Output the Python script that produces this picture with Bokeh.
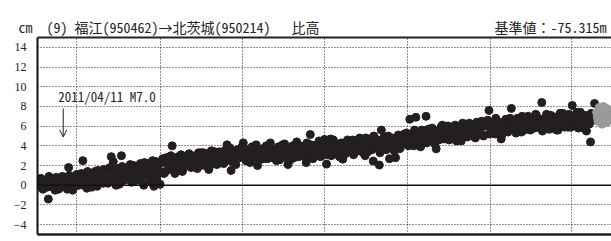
import numpy as np
import pandas as pd
from bokeh.plotting import figure
from bokeh.models import (Range1d, LinearAxis, DatetimeAxis, FixedTicker, Span, Label, Title,
                          Arrow, OpenHead, CustomJSTickFormatter, ColumnDataSource)
from bokeh.embed import file_html
from bokeh.resources import INLINE

# ---------------- data ----------------
unit_label = "cm"
route_no = "(9)"
route = "福江(950462)→北茨城(950214)"
quantity = "比高"
reference_value = "基準値：-75.315m"
event_date = "2011-04-11"
event_text = "2011/04/11 M7.0"

x_start = "2011-03-04"
x_end = "2013-06-29"
grid_dates = ["2011-05-01", "2011-09-01", "2012-01-01", "2012-05-01",
              "2012-09-01", "2013-01-01", "2013-05-01"]
y_ticks = [-4, -2, 0, 2, 4, 6, 8, 10, 12, 14]

# final solutions (cm), series A: every 3 days from 2011-03-08
final_a_start = "2011-03-08"
final_a = [
    0.1, -0.3, 0.5, 0.2, -1.4, 0.6, -0.2, 0.3, 0.8, -0.4,
    0.4, 0.9, -0.1, 0.5, 1.8, 0.2, -0.5, 0.7, 1.1, 0.0,
    0.5, 2.5, 0.9, -0.3, 1.2, 0.3, 0.8, 1.4, -0.1, 0.6,
    1.3, 0.2, 1.0, 1.6, 0.4, 2.9, 2.4, 0.7, 1.5, 0.1,
    3.0, 1.1, 0.6, 1.8, 1.4, 0.3, 2.0, 1.0, 1.7, 0.5,
    1.9, 0.0, 1.3, 2.2, 0.4, 1.6, -0.1, 2.4, 1.1, 0.1,
    2.3, 1.2, 2.8, 1.8, 2.5, 4.0, 1.6, 2.1, 2.9, 1.5,
    1.4, 2.6, 2.0, 3.1, 2.4, 1.9, 2.8, 2.2, 3.3, 2.0,
    2.7, 2.3, 3.2, 1.6, 2.9, 2.4, 3.4, 2.1, 2.8, 3.0,
    2.5, 3.3, 4.1, 2.7, 1.5, 3.1, 2.6, 3.6, 2.9, 3.4,
    4.3, 2.8, 3.5, 3.0, 2.6, 3.7, 3.2, 2.0, 3.4, 2.9,
    3.6, 3.1, 2.7, 3.9, 3.3, 2.9, 3.5, 3.8, 2.6, 3.2,
    3.0, 3.7, 2.1, 3.4, 3.9, 2.8, 3.5, 3.2, 4.0, 3.1,
    3.6, 2.3, 3.3, 5.15, 3.8, 3.0, 4.1, 3.4, 2.9, 3.7,
    4.65, 2.15, 3.5, 4.7, 3.9, 3.2, 4.2, 3.6, 4.0, 2.65,
    3.8, 4.3, 3.4, 4.0, 4.6, 3.5, 4.1, 3.7, 4.4, 3.3,
    3.0, 4.2, 4.7, 3.8, 2.45, 4.4, 3.9, 2.05, 5.6, 4.0,
    4.6, 3.9, 2.7, 4.5, 4.1, 2.8, 4.8, 3.7, 4.4, 5.0,
    4.3, 5.1, 6.7, 4.6, 4.0, 6.9, 5.3, 4.5, 5.6, 4.9,
    7.0, 5.2, 4.6, 5.8, 4.9, 3.7, 5.5, 5.0, 6.1, 4.7,
    5.4, 6.0, 4.8, 5.2, 5.9, 4.5, 5.6, 5.1, 6.3, 4.9,
    5.8, 5.3, 6.2, 5.0, 5.7, 6.4, 5.4, 5.9, 5.1, 6.0,
    6.2, 7.6, 5.5, 6.0, 5.2, 6.5, 5.8, 4.7, 6.3, 5.6,
    6.6, 5.9, 7.8, 6.2, 5.7, 6.8, 6.0, 5.4, 6.4, 6.9,
    6.1, 5.8, 6.7, 6.3, 7.2, 5.9, 6.5, 8.4, 6.0, 6.8,
    6.4, 5.7, 7.0, 6.2, 6.6, 5.6, 7.3, 6.1, 6.8, 6.5,
    5.9, 7.1, 8.1, 6.4, 6.9, 5.8, 7.4, 6.3, 6.7, 5.5,
    7.0, 4.4, 6.6, 8.3,
]
# final solutions (cm), series B: every 3 days from 2011-03-09 (interleaved days)
final_b_start = "2011-03-09"
final_b = [
    0.7, -0.4, 0.3, -0.2, 0.9, 0.0, 0.6, -0.5, 0.4, 0.1,
    -0.2, 0.8, 0.5, -0.4, 1.0, 0.2, -0.1, 0.7, 0.0, 0.9,
    1.2, 0.0, 0.8, 1.4, 0.3, -0.2, 1.0, 0.5, 1.5, 0.2,
    0.3, 1.6, 1.0, 0.2, 1.8, 0.6, 1.3, 0.0, 1.7, 0.8,
    1.9, 0.5, 1.4, 0.8, 2.1, 1.0, 0.4, 1.7, 1.2, 2.2,
    0.8, 2.3, 1.2, 2.0, 0.9, 2.5, 1.6, 0.6, 2.2, 1.4,
    2.7, 1.3, 2.4, 1.6, 3.0, 1.9, 1.2, 2.6, 2.2, 3.1,
    1.6, 2.9, 2.1, 3.2, 1.8, 2.6, 3.0, 1.7, 2.5, 3.3,
    3.3, 2.0, 2.9, 1.9, 3.5, 2.4, 3.1, 2.2, 3.4, 2.7,
    2.2, 3.6, 2.6, 3.8, 2.4, 3.3, 2.1, 3.5, 2.8, 3.9,
    3.8, 2.5, 3.5, 2.3, 3.9, 2.8, 4.1, 3.3, 2.6, 3.7,
    2.7, 4.0, 3.1, 4.3, 2.8, 3.6, 2.5, 3.9, 3.2, 4.1,
    4.2, 2.8, 3.8, 2.6, 4.0, 3.3, 4.4, 2.9, 3.7, 3.1,
    2.9, 4.3, 3.4, 4.1, 2.7, 3.9, 3.2, 4.5, 3.0, 4.0,
    4.4, 3.1, 4.2, 3.0, 4.6, 3.5, 4.0, 2.9, 4.3, 3.4,
    3.2, 4.6, 3.6, 4.5, 3.1, 4.2, 3.5, 4.8, 3.8, 4.4,
    4.8, 3.4, 4.5, 3.6, 5.0, 3.9, 4.6, 3.3, 4.3, 4.9,
    3.6, 5.0, 4.0, 4.8, 3.5, 4.6, 5.1, 3.8, 4.4, 5.2,
    5.3, 4.0, 5.1, 4.2, 5.6, 4.5, 5.0, 3.9, 5.4, 4.6,
    4.3, 5.7, 4.7, 5.5, 4.2, 5.3, 4.6, 5.9, 4.8, 5.6,
    6.0, 4.6, 5.7, 4.8, 6.1, 5.0, 5.8, 4.5, 5.5, 6.2,
    4.9, 6.3, 5.2, 6.1, 4.8, 5.9, 5.3, 6.5, 5.0, 6.2,
    6.6, 5.2, 6.3, 5.4, 6.8, 5.6, 6.4, 5.1, 6.1, 6.7,
    5.4, 6.8, 5.8, 6.6, 5.3, 6.5, 5.9, 7.0, 5.6, 6.7,
    7.0, 5.6, 6.8, 5.8, 7.1, 6.0, 6.7, 5.5, 6.5, 7.2,
    5.7, 7.1, 6.0, 6.9, 5.6, 6.8, 6.2, 7.3, 5.9, 7.0,
    7.2, 5.9, 7.0, 6.1, 7.4, 6.3, 6.9, 5.8, 7.1, 6.4,
    6.2, 7.3, 6.6,
]
# rapid (preliminary) solutions (cm), daily from 2013-06-07
rapid_start = "2013-06-07"
rapid_vals = [7.4, 6.9, 6.5, 7.2, 7.9, 7.0, 6.6, 7.5, 6.2, 7.6, 8.0, 7.1,
              6.8, 7.3, 7.8, 6.4, 7.0, 7.7, 6.9, 7.1, 7.5, 6.7, 7.2]

# ---------------- build ----------------
def ms(d):
    return pd.Timestamp(d).value / 1e6

xa = pd.date_range(final_a_start, periods=len(final_a), freq="3D")
xb = pd.date_range(final_b_start, periods=len(final_b), freq="3D")
xr = pd.date_range(rapid_start, periods=len(rapid_vals), freq="1D")
src_final = ColumnDataSource(dict(x=list(xa) + list(xb), y=final_a + final_b))
src_rapid = ColumnDataSource(dict(x=xr, y=rapid_vals))

FONT_T = "Noto Sans Mono CJK JP"
NB = "\u00a0"
title_text = (unit_label + NB * 2 + route_no + NB + route + NB * 3 + quantity
              + NB * 25 + reference_value)

p = figure(width=611, height=241, output_backend="svg", toolbar_location=None,
           x_axis_type="datetime",
           x_range=Range1d(ms(x_start), ms(x_end)), y_range=Range1d(-5, 15),
           min_border_left=37, min_border_top=37, min_border_right=0, min_border_bottom=7,
           x_axis_location=None, y_axis_location=None)
p.outline_line_color = None

FONT_NUM = "Liberation Sans Narrow"
yaxis = LinearAxis(ticker=FixedTicker(ticks=y_ticks),
                   formatter=CustomJSTickFormatter(code="return tick < 0 ? '\u2212' + Math.abs(tick) : String(tick);"),
                   axis_line_width=2, axis_line_color="#111111",
                   major_tick_line_color=None, minor_tick_line_color=None,
                   major_label_standoff=5, major_label_text_font=FONT_NUM,
                   major_label_text_font_size="12px", major_label_text_color="#222222")
p.add_layout(yaxis, "left")

for loc, w in (("below", 2.5), ("above", 2)):
    ax = DatetimeAxis(ticker=FixedTicker(ticks=[]), axis_line_width=w, axis_line_color="#222222",
                      major_tick_line_color=None, minor_tick_line_color=None,
                      major_label_text_font_size="0px", major_label_standoff=0)
    p.add_layout(ax, loc)

p.add_layout(Title(text=title_text, align="left", offset=-19, standoff=2,
                   text_font=FONT_T, text_font_size="14px", text_font_style="normal",
                   text_color="#222222"), "above")

p.xgrid.ticker = FixedTicker(ticks=[ms(d) for d in grid_dates])
p.ygrid.ticker = FixedTicker(ticks=[v for v in y_ticks if v != 0])
for g in (p.xgrid, p.ygrid):
    g.grid_line_color = "#222222"
    g.grid_line_dash = "1 2"
    g.grid_line_width = 1

p.add_layout(Span(location=0, dimension="width", line_color="#111111", line_width=1.5))

p.scatter("x", "y", source=src_final, size=8, fill_color="#231f20", line_color="#231f20")
p.scatter("x", "y", source=src_rapid, size=8, fill_color="#9a9a9a", line_color="#9a9a9a")

p.add_layout(Arrow(end=OpenHead(size=7, line_width=1, line_color="#222222"),
                   x_start=ms(event_date), y_start=7.8, x_end=ms(event_date), y_end=4.9,
                   line_width=1, line_color="#222222"))
p.add_layout(Label(x=ms(event_date), y=8.05, x_offset=-5, text=event_text,
                   text_font=FONT_T, text_font_size="13px",
                   text_baseline="bottom", text_color="#222222"))

open("out.html", "w").write(file_html(p, INLINE))
